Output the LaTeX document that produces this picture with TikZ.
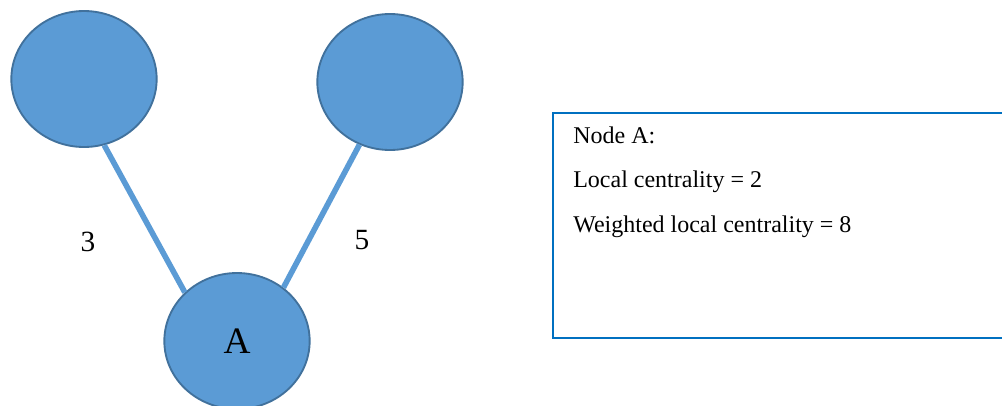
\documentclass[tikz,border=0pt]{standalone}
\usepackage{fontspec}
\setmainfont{Liberation Serif}
\usetikzlibrary{shapes.geometric,positioning}
\definecolor{fillblue}{HTML}{5B9BD5}
\definecolor{edgeblue}{HTML}{41719C}
\definecolor{boxblue}{HTML}{0070C0}

\begin{document}
\begin{tikzpicture}[x=.75pt,y=-.75pt,
  vertex/.style={ellipse,draw=edgeblue,line width=1.4pt,fill=fillblue,
    minimum width=109pt,minimum height=102pt,inner sep=0pt},
  link/.style={fillblue,line width=4.2pt},
  weight/.style={font=\fontsize{22}{26}\selectfont},
  info/.style={anchor=base west,inner sep=0pt,font=\fontsize{18}{21}\selectfont}]
\useasboundingbox (0,0) rectangle (1002,405);
\clip (0,0) rectangle (1002,405);
\node[vertex] (left) at (84,79) {};
\node[vertex] (right) at (390,82) {};
\node[vertex,font=\fontsize{28}{32}\selectfont] (a) at (237,341) {A};
\draw[link] (left.-73) -- (a.137);
\draw[link] (right.244) -- (a.49);
\node[weight] (w3) at (88,242) {3};
\node[weight] (w5) at (362,240) {5};
\node[draw=boxblue,line width=1.5pt,anchor=north west,minimum width=345pt,
  minimum height=169pt] (box) at (552,112) {};
\node[info] (l1) at (573,143) {Node A:};
\node[info] (l2) at (573,187) {Local centrality = 2};
\node[info] (l3) at (573,232) {Weighted local centrality = 8};
\end{tikzpicture}
\end{document}
